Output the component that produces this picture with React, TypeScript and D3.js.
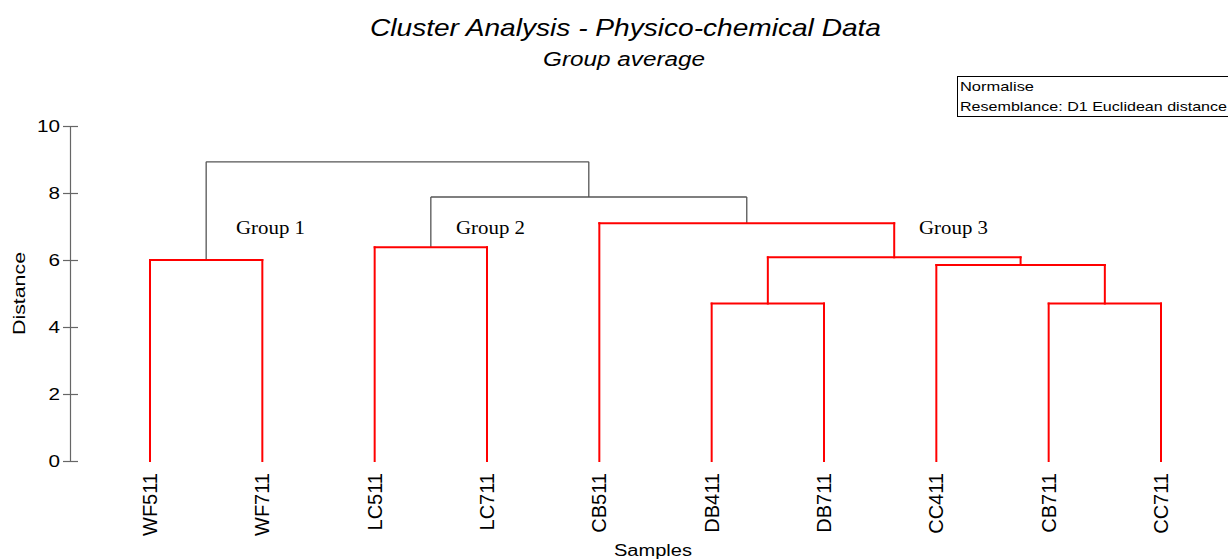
import React from "react";
import * as d3 from "d3";

// leaf order as drawn along the x axis
const leaves = ["WF511", "WF711", "LC511", "LC711", "CB511", "DB411", "DB711", "CC411", "CB711", "CC711"];

// merges: m0..m8 (children refer to leaves by name or earlier merges by id)
const mergeLeft = ["WF511", "LC511", "DB411", "CB711", "CC411", "m2", "CB511", "m1", "m0"];
const mergeRight = ["WF711", "LC711", "DB711", "CC711", "m3", "m4", "m5", "m6", "m7"];
const mergeHeight = [6.0, 6.38, 4.7, 4.7, 5.85, 6.08, 7.1, 7.88, 8.93];

const groupCut = 7.5;
const groupLabels = ["Group 1", "Group 2", "Group 3"];
const groupLabelX = [236, 456, 919];
const groupLabelLevel = [6.78, 6.78, 6.78];

const yTicks = [0, 2, 4, 6, 8, 10];

const W = 1228;
const H = 559;

type Node = { id: string; height: number; children?: Node[] };

function buildTree(): Node {
  const nodes: Record<string, Node> = {};
  leaves.forEach((l) => (nodes[l] = { id: l, height: 0 }));
  mergeLeft.forEach((l, i) => {
    nodes["m" + i] = {
      id: "m" + i,
      height: mergeHeight[i],
      children: [nodes[l], nodes[mergeRight[i]]],
    };
  });
  return nodes["m" + (mergeLeft.length - 1)];
}

export default function App() {
  const x = d3.scalePoint<string>().domain(leaves).range([150, 1161]);
  const y = d3.scaleLinear().domain([0, 10]).range([461, 126]);

  const root = d3.hierarchy<Node>(buildTree());
  // x of each node = midpoint of its children
  const nx = new Map<Node, number>();
  root.eachAfter((d) => {
    if (!d.children) nx.set(d.data, x(d.data.id)!);
    else nx.set(d.data, d3.mean(d.children, (c) => nx.get(c.data)!)!);
  });

  const segs: { x1: number; y1: number; x2: number; y2: number; red: boolean }[] = [];
  root.each((d) => {
    if (!d.children) return;
    const red = d.data.height <= groupCut;
    const xs = d.children.map((c) => nx.get(c.data)!);
    segs.push({ x1: xs[0], y1: y(d.data.height), x2: xs[1], y2: y(d.data.height), red });
    d.children.forEach((c) => {
      const cx = nx.get(c.data)!;
      segs.push({ x1: cx, y1: y(c.data.height), x2: cx, y2: y(d.data.height), red });
    });
  });

  const sans = "Arial, 'Liberation Sans', sans-serif";
  const stretch = "spacingAndGlyphs";

  return (
    <div style={{ position: "absolute", left: 0, top: 0 }}>
      <svg width={W} height={H} style={{ display: "block", background: "#fff" }}>
        <text x={625.5} y={35.5} textAnchor="middle" fontFamily={sans} fontStyle="italic" fontSize={24} textLength={511} lengthAdjust={stretch} fill="#000">
          Cluster Analysis - Physico-chemical Data
        </text>
        <text x={624} y={66} textAnchor="middle" fontFamily={sans} fontStyle="italic" fontSize={19.5} textLength={162} lengthAdjust={stretch} fill="#000">
          Group average
        </text>

        {/* legend box */}
        <rect x={957.5} y={76.5} width={280} height={40} fill="#fff" stroke="#000" strokeWidth={1} />
        <text x={960} y={91} fontFamily={sans} fontSize={13.5} textLength={74} lengthAdjust={stretch} fill="#000">Normalise</text>
        <text x={960} y={111} fontFamily={sans} fontSize={13.5} textLength={267} lengthAdjust={stretch} fill="#000">Resemblance: D1 Euclidean distance</text>

        {/* y axis */}
        <line x1={70.5} x2={70.5} y1={y(10)} y2={y(0)} stroke="#666" strokeWidth={1.2} />
        {yTicks.map((t) => (
          <g key={t}>
            <line x1={63} x2={78} y1={y(t) + 0.5} y2={y(t) + 0.5} stroke="#666" strokeWidth={1.2} />
            <text x={60} y={y(t) + 6} textAnchor="end" fontFamily={sans} fontSize={16} textLength={11.5 * String(t).length} lengthAdjust={stretch} fill="#000">{t}</text>
          </g>
        ))}
        <text transform={`translate(25,${293.5}) rotate(-90)`} textAnchor="middle" fontFamily={sans} fontSize={16} textLength={83} lengthAdjust={stretch} fill="#000">
          Distance
        </text>

        {/* dendrogram */}
        {segs.filter((s) => !s.red).map((s, i) => (
          <line key={"b" + i} x1={s.x1} y1={s.y1} x2={s.x2} y2={s.y2} stroke="#555" strokeWidth={1.3} />
        ))}
        {segs.filter((s) => s.red).map((s, i) => (
          <line key={"r" + i} x1={s.x1} y1={s.y1} x2={s.x2} y2={s.y2} stroke="#ff0000" strokeWidth={2} strokeLinecap="square" />
        ))}

        {groupLabels.map((g, i) => (
          <text key={g} x={groupLabelX[i]} y={y(groupLabelLevel[i])} fontFamily="'Liberation Serif', 'Times New Roman', serif" fontSize={19.5} textLength={69} lengthAdjust={stretch} fill="#000">
            {g}
          </text>
        ))}

        {/* leaf labels */}
        {leaves.map((l) => (
          <text key={l} transform={`translate(${x(l)! + 7},${473}) rotate(-90)`} textAnchor="end" fontFamily={sans} fontSize={20} fill="#000">
            {l}
          </text>
        ))}
        <text x={653} y={556} textAnchor="middle" fontFamily={sans} fontSize={16} textLength={78} lengthAdjust={stretch} fill="#000">Samples</text>
      </svg>
    </div>
  );
}
